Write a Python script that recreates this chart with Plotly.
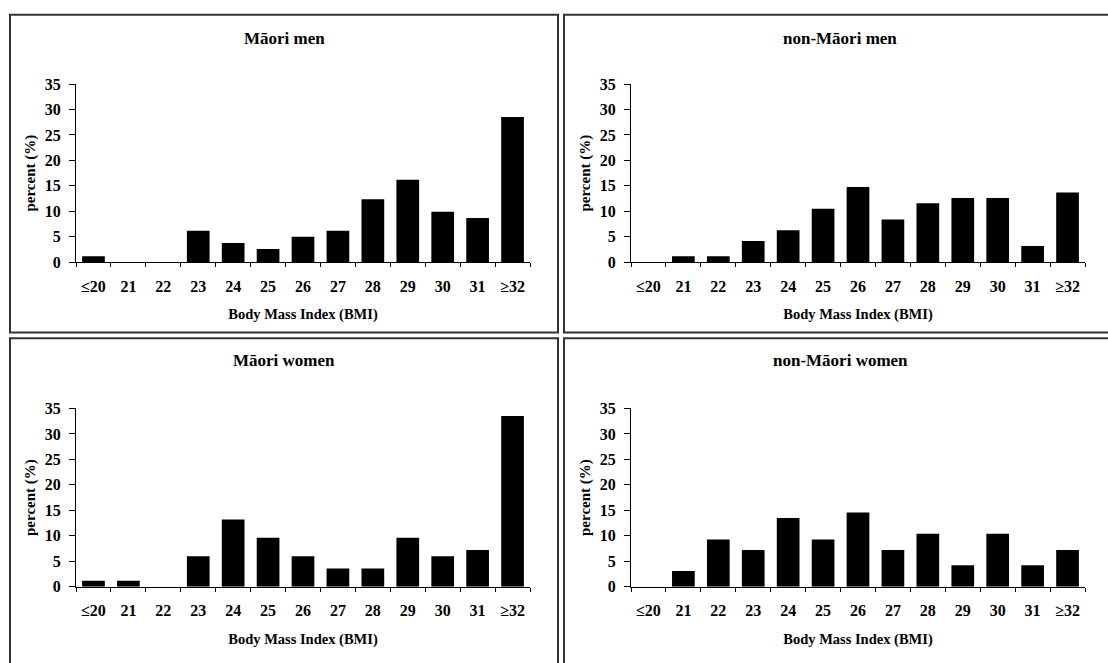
import plotly.graph_objects as go

categories = ["≤20", "21", "22", "23", "24", "25", "26", "27", "28", "29", "30", "31", "≥32"]

maori_men = [1.2, 0, 0, 6.2, 3.8, 2.6, 5.0, 6.2, 12.4, 16.2, 9.9, 8.7, 28.5]
non_maori_men = [0, 1.2, 1.2, 4.2, 6.3, 10.5, 14.8, 8.4, 11.6, 12.6, 12.6, 3.2, 13.7]
maori_women = [1.2, 1.2, 0, 6.0, 13.2, 9.6, 6.0, 3.6, 3.6, 9.6, 6.0, 7.2, 33.5]
non_maori_women = [0, 3.1, 9.3, 7.2, 13.5, 9.3, 14.6, 7.2, 10.4, 4.2, 10.4, 4.2, 7.2]

panel_titles = ["Māori men", "non-Māori men", "Māori women", "non-Māori women"]
series = [maori_men, non_maori_men, maori_women, non_maori_women]

W, H = 1108, 663
FONT = "Liberation Serif"

def px(x):
    return x / W

def py(y):
    return 1 - y / H

# plot areas in pixels: (x0, x1, y_top(35), y_bottom(0))
areas = [
    (76, 530, 78, 261),
    (631, 1085, 78, 261),
    (76, 530, 411, 594),
    (631, 1085, 411, 594),
]
frames = [
    (10, 558, 7, 333),
    (564, 1140, 7, 333),
    (10, 558, 339, 700),
    (564, 1140, 339, 700),
]
title_pos = [(284, 31), (840, 31), (284, 362), (840, 362)]

fig = go.Figure()
layout = dict(
    width=W, height=H,
    margin=dict(l=0, r=0, t=0, b=0),
    paper_bgcolor="white", plot_bgcolor="white",
    showlegend=False, bargap=0.35,
    font=dict(family=FONT, color="black"),
    shapes=[], annotations=[],
)

for i, (vals, (x0, x1, yt, yb)) in enumerate(zip(series, areas)):
    n = "" if i == 0 else str(i + 1)
    fig.add_trace(go.Bar(x=categories, y=vals, marker=dict(color="black", line=dict(width=0)),
                         xaxis="x" + n, yaxis="y" + n))
    layout["xaxis" + n] = dict(
        domain=[px(x0), px(x1)], anchor="y" + n,
        type="category", categoryorder="array", categoryarray=categories,
        tickson="boundaries", ticks="outside", ticklen=4, tickwidth=1, tickcolor="black",
        showline=True, linecolor="black", linewidth=1, showgrid=False, zeroline=False,
        tickfont=dict(family=FONT, size=16, color="black", weight="bold"),
        ticklabelstandoff=9,
        title=dict(text="<b>Body Mass Index (BMI)</b>", font=dict(family=FONT, size=14.5, color="black"), standoff=15),
        fixedrange=True,
    )
    layout["yaxis" + n] = dict(
        domain=[py(yb), py(yt)], anchor="x" + n,
        range=[0, 35], dtick=5, tick0=0,
        ticks="outside", ticklen=6, tickwidth=1, tickcolor="black",
        showline=True, linecolor="black", linewidth=1, showgrid=False, zeroline=False,
        tickfont=dict(family=FONT, size=16, color="black", weight="bold"),
        ticklabelstandoff=5,
        title=dict(text="<b>percent (%)</b>", font=dict(family=FONT, size=15, color="black"), standoff=5),
        fixedrange=True,
    )
    fx0, fx1, fy0, fy1 = frames[i]
    layout["shapes"].append(dict(type="rect", xref="paper", yref="paper",
                                 x0=px(fx0), x1=px(fx1), y0=py(fy1), y1=py(fy0),
                                 line=dict(color="#333333", width=2), fillcolor="rgba(0,0,0,0)"))
    tx, ty = title_pos[i]
    layout["annotations"].append(dict(text="<b>" + panel_titles[i] + "</b>", xref="paper", yref="paper",
                                      x=px(tx), y=py(ty), showarrow=False, xanchor="center", yanchor="middle",
                                      font=dict(family=FONT, size=17, color="black")))

fig.update_layout(**layout)
fig.write_html("out.html", config={"displayModeBar": False},
               post_script="document.body.style.margin='0';")
